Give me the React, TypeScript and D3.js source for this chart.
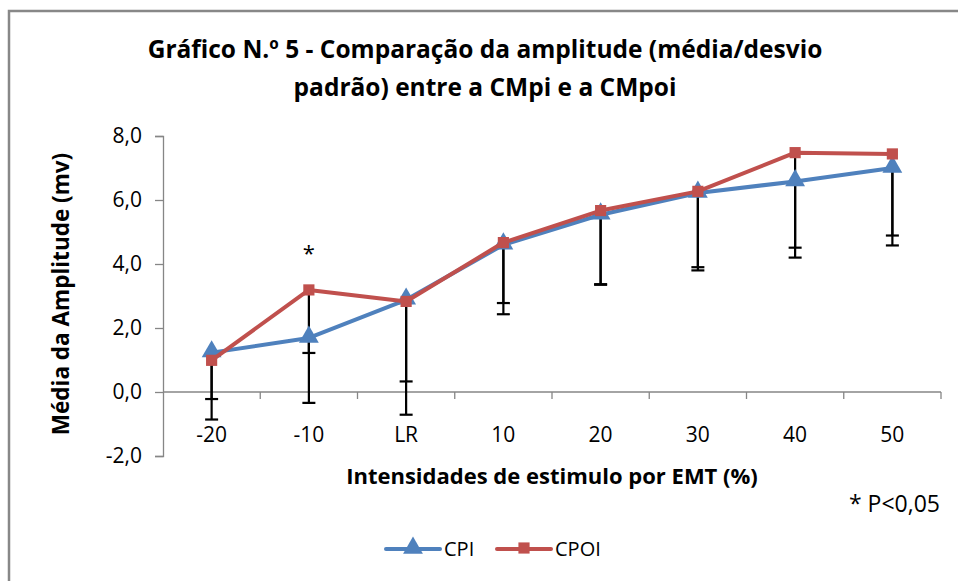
import React, { useEffect, useRef } from 'react'
import * as d3 from 'd3'

const categories = ['-20', '-10', 'LR', '10', '20', '30', '40', '50']
const cpi = [1.23, 1.69, 2.88, 4.6, 5.54, 6.22, 6.58, 7.0]
const cpoi = [0.99, 3.19, 2.83, 4.67, 5.67, 6.27, 7.48, 7.44]
const cpiSd = [1.45, 2.03, 3.59, 2.17, 2.19, 2.42, 2.38, 2.42]
const cpoiSd = [1.85, 1.97, 2.5, 1.89, 2.3, 2.37, 2.97, 2.55]
const yTicks = [-2, 0, 2, 4, 6, 8]

const W = 958
const H = 581
const margin = { top: 136, right: 17, bottom: 125, left: 163 }
const font = "'Open Sans', sans-serif"
const BLUE = '#4F81BD'
const RED = '#C0504D'
const AXIS = '#868686'

export default function App() {
    const node = useRef<SVGSVGElement>(null)

    useEffect(() => {
        const svg = d3.select(node.current)
        svg.selectAll('*').remove()

        // chart frame (runs off the right and bottom of the picture)
        svg.append('rect')
            .attr('x', 9).attr('y', 11)
            .attr('width', W + 20).attr('height', H + 20)
            .attr('fill', '#fff')
            .attr('stroke', '#888').attr('stroke-width', 2.5)

        const x = d3.scaleBand()
            .domain(categories)
            .range([margin.left, W - margin.right])

        const y = d3.scaleLinear()
            .domain([-2, 8])
            .range([H - margin.bottom, margin.top])

        const cx = (c: string) => (x(c) as number) + x.bandwidth() / 2

        // y axis
        const yAxis = svg.append('g')
            .attr('transform', `translate(${margin.left},0)`)
            .call(d3.axisLeft(y).tickValues(yTicks).tickSize(8).tickPadding(13)
                .tickFormat(d => d3.format('.1f')(d as number).replace('.', ',').replace('−', '-')))
        yAxis.select('.domain').attr('stroke', AXIS).attr('stroke-width', 1.3)
        yAxis.selectAll('.tick line').attr('stroke', AXIS).attr('stroke-width', 1.3)
        yAxis.selectAll('text')
            .attr('font-family', font).attr('font-size', 21).attr('fill', '#000')

        // x axis sits on zero
        const xg = svg.append('g').attr('transform', `translate(0,${y(0)})`)
        xg.append('line')
            .attr('x1', margin.left).attr('x2', W - margin.right)
            .attr('stroke', AXIS).attr('stroke-width', 1.3)
        const bounds = categories.map(c => x(c) as number).concat([W - margin.right])
        xg.selectAll('line.tk').data(bounds.slice(1)).join('line')
            .attr('class', 'tk')
            .attr('x1', d => d).attr('x2', d => d)
            .attr('y1', 0).attr('y2', 7)
            .attr('stroke', AXIS).attr('stroke-width', 1.3)
        svg.append('g').selectAll('text').data(categories).join('text')
            .attr('x', d => cx(d)).attr('y', 442)
            .attr('text-anchor', 'middle')
            .attr('font-family', font).attr('font-size', 21)
            .text(d => d)

        // error bars (minus only)
        const bars = [
            { vals: cpi, sd: cpiSd },
            { vals: cpoi, sd: cpoiSd },
        ]
        const eb = svg.append('g').attr('stroke', '#000').attr('stroke-width', 2.2)
        bars.forEach(s => {
            categories.forEach((c, i) => {
                const lo = s.vals[i] - s.sd[i]
                eb.append('line')
                    .attr('x1', cx(c)).attr('x2', cx(c))
                    .attr('y1', y(s.vals[i])).attr('y2', y(lo))
                eb.append('line')
                    .attr('x1', cx(c) - 6.5).attr('x2', cx(c) + 6.5)
                    .attr('y1', y(lo)).attr('y2', y(lo))
            })
        })

        const line = d3.line<number>()
            .x((d, i) => cx(categories[i]))
            .y(d => y(d))

        const tri = d3.symbol().type(d3.symbolTriangle).size(170)
        const sq = d3.symbol().type(d3.symbolSquare).size(125)

        svg.append('path').datum(cpi)
            .attr('d', line).attr('fill', 'none')
            .attr('stroke', BLUE).attr('stroke-width', 4).attr('stroke-linejoin', 'round')
        svg.append('g').selectAll('path').data(cpi).join('path')
            .attr('transform', (d, i) => `translate(${cx(categories[i])},${y(d) - 1})`)
            .attr('d', tri).attr('fill', BLUE)

        svg.append('path').datum(cpoi)
            .attr('d', line).attr('fill', 'none')
            .attr('stroke', RED).attr('stroke-width', 4).attr('stroke-linejoin', 'round')
        svg.append('g').selectAll('path').data(cpoi).join('path')
            .attr('transform', (d, i) => `translate(${cx(categories[i])},${y(d)})`)
            .attr('d', sq).attr('fill', RED)

        // significance mark
        svg.append('text')
            .attr('x', cx('-10')).attr('y', 261)
            .attr('text-anchor', 'middle')
            .attr('font-family', font).attr('font-size', 22)
            .text('*')

        // titles
        const title = svg.append('text')
            .attr('text-anchor', 'middle')
            .attr('font-family', font).attr('font-weight', 'bold').attr('font-size', 24.5)
        title.append('tspan').attr('x', 485).attr('y', 58)
            .text('Gráfico  N.º 5 - Comparação da amplitude (média/desvio')
        title.append('tspan').attr('x', 485).attr('y', 96)
            .text('padrão) entre a CMpi e a CMpoi')

        svg.append('text')
            .attr('transform', `translate(69,${(margin.top + H - margin.bottom) / 2 - 2}) rotate(-90)`)
            .attr('text-anchor', 'middle')
            .attr('font-family', font).attr('font-weight', 'bold').attr('font-size', 22.5)
            .text('Média da Amplitude (mv)')

        svg.append('text')
            .attr('x', (margin.left + W - margin.right) / 2).attr('y', 484)
            .attr('text-anchor', 'middle')
            .attr('font-family', font).attr('font-weight', 'bold').attr('font-size', 22)
            .text('Intensidades de estimulo por EMT (%)')

        svg.append('text')
            .attr('x', 940).attr('y', 512)
            .attr('text-anchor', 'end')
            .attr('font-family', font).attr('font-size', 23)
            .text('* P<0,05')

        // legend
        const legend = [
            { name: 'CPI', color: BLUE, sym: tri, x0: 386 },
            { name: 'CPOI', color: RED, sym: sq, x0: 497 },
        ]
        const lg = svg.append('g')
        legend.forEach(l => {
            lg.append('line')
                .attr('x1', l.x0).attr('x2', l.x0 + 54)
                .attr('y1', 549).attr('y2', 549)
                .attr('stroke', l.color).attr('stroke-width', 4).attr('stroke-linecap', 'round')
            lg.append('path')
                .attr('transform', `translate(${l.x0 + 27},548)`)
                .attr('d', l.sym).attr('fill', l.color)
            lg.append('text')
                .attr('x', l.x0 + 58).attr('y', 556)
                .attr('font-family', font).attr('font-size', 20)
                .text(l.name)
        })
    }, [])

    return (
        <svg ref={node} width={W} height={H}
            style={{ position: 'absolute', left: 0, top: 0, background: '#fff' }} />
    )
}
